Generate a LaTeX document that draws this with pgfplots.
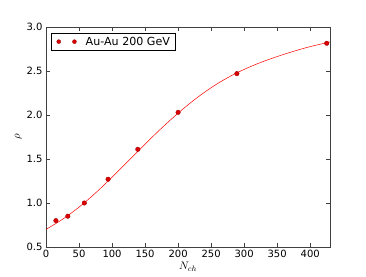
\documentclass[border=0pt]{standalone}
\usepackage{pgfplots}
\pgfplotsset{compat=1.18}
\usepackage{fontspec}
\setmainfont{DejaVu Sans}
\definecolor{mk}{RGB}{220,0,0}
\definecolor{mkedge}{RGB}{150,0,0}
\begin{document}
\begin{tikzpicture}
\begin{axis}[
  scale only axis, width=284pt, height=220pt,
  xmin=0, xmax=430, ymin=0.5, ymax=3.0,
  xtick={0,50,...,400}, ytick={0.5,1.0,...,3.0},
  yticklabel style={/pgf/number format/.cd,fixed,fixed zerofill,precision=1},
  /pgf/number format/assume math mode=true,
  ticklabel style={font=\fontsize{10}{11}\selectfont},
  tick align=inside, major tick length=4pt,
  xtick pos=both, ytick pos=both,
  axis line style={black!75, line width=0.7pt},
  every tick/.style={black!75, line width=0.5pt},
  xlabel={$N_{ch}$}, ylabel={$\rho$},
  xlabel style={font=\fontsize{11}{12}\selectfont, yshift=3pt, xshift=0pt},
  ylabel style={font=\fontsize{11}{12}\selectfont, yshift=-2pt},
  legend style={font=\fontsize{11.1}{12}\selectfont, draw=black, line width=0.5pt, inner xsep=3.5pt, inner ysep=1.8pt, at={(0.0176,0.974)}, anchor=north west},
  legend image code/.code={\path[draw=none, fill=none] (0pt,0) -- (29pt,0); \fill[mk, draw=mkedge, line width=0.3pt] (4pt,0) circle (2pt); \fill[mk, draw=mkedge, line width=0.3pt] (19.7pt,0) circle (2pt);},
]
\addplot[red, line width=0.5pt, smooth, tension=0.6, forget plot] coordinates {
(0,0.700) (25,0.815) (50,0.953) (75,1.114) (100,1.293) (125,1.480) (150,1.669) (175,1.851) (200,2.021) (225,2.175) (250,2.310) (275,2.424) (300,2.518) (325,2.597) (350,2.664) (375,2.724) (400,2.777) (430,2.830)};
\addplot[only marks, mark=*, mark size=2.3pt, mark options={fill=mk, draw=mkedge, line width=0.3pt}] coordinates {
(15,0.80) (33,0.85) (58,1.00) (94,1.27) (139,1.61) (200,2.03) (289,2.47) (425,2.815)};
\addlegendentry{Au-Au 200 GeV}
\end{axis}
\useasboundingbox ([shift={(-46pt,-29pt)}]current axis.south west) rectangle ([shift={(36pt,27pt)}]current axis.north east);
\end{tikzpicture}
\end{document}
